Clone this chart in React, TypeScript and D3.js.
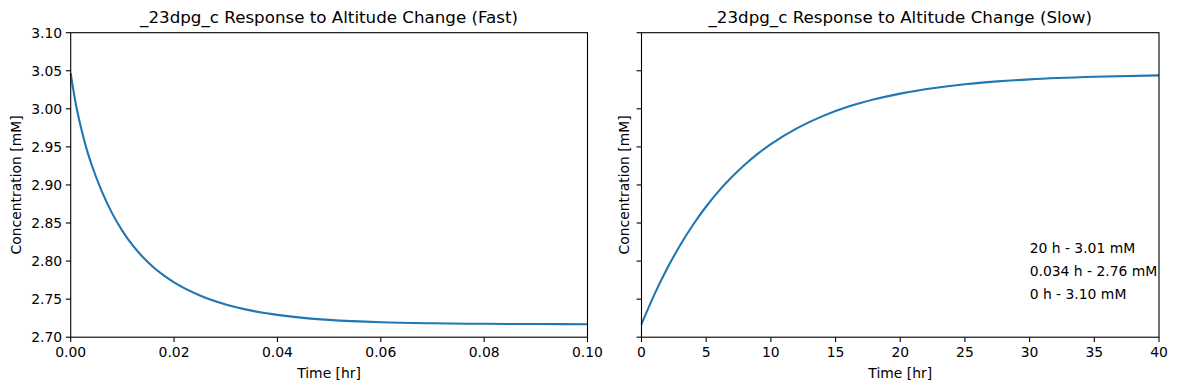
import React from 'react';
import * as d3 from 'd3';

// fast response (hours, mM)
const fastTime = [0, 0.001, 0.002, 0.003, 0.004, 0.006, 0.008, 0.01, 0.012, 0.014, 0.016, 0.018, 0.02, 0.025, 0.03, 0.035, 0.04, 0.045, 0.05, 0.06, 0.07, 0.08, 0.09, 0.1];
const fastConc = [3.0465, 3.006, 2.975, 2.949, 2.9275, 2.8918, 2.863, 2.8397, 2.8205, 2.8049, 2.7919, 2.7811, 2.772, 2.7548, 2.743, 2.7349, 2.7293, 2.7254, 2.7228, 2.7197, 2.7183, 2.7176, 2.7173, 2.7171];

// slow response
const slowTime = [0, 1, 2, 3, 4, 5, 6, 7, 8, 9, 10, 12, 14, 16, 18, 20, 22.5, 25, 27.5, 30, 35, 40];
const slowConc = [2.717, 2.7562, 2.7908, 2.8212, 2.848, 2.8717, 2.8925, 2.9107, 2.9269, 2.9411, 2.9536, 2.9743, 2.9904, 3.0029, 3.0125, 3.02, 3.0271, 3.0323, 3.036, 3.0387, 3.0421, 3.044];

const fastTicks = [0, 0.02, 0.04, 0.06, 0.08, 0.1];
const slowTicks = [0, 5, 10, 15, 20, 25, 30, 35, 40];
const yTicks = [2.7, 2.75, 2.8, 2.85, 2.9, 2.95, 3.0, 3.05, 3.1];

const notes = ['20 h - 3.01 mM', '0.034 h - 2.76 mM', '0 h - 3.10 mM'];
const noteY = [2.81, 2.78, 2.75];

const W = 1177;
const H = 390;
const top = 32.7;
const bottom = 337.2;
const font = 'DejaVu Sans, sans-serif';
const blue = '#1f77b4';

const y = d3.scaleLinear().domain([2.7, 3.1]).range([bottom, top]);

type PanelProps = {
  left: number;
  right: number;
  title: string;
  xDomain: [number, number];
  xTicks: number[];
  xFmt: (v: number) => string;
  times: number[];
  conc: number[];
  showY: boolean;
  children?: (x: d3.ScaleLinear<number, number>) => React.ReactNode;
};

const Panel = ({ left, right, title, xDomain, xTicks, xFmt, times, conc, showY, children }: PanelProps) => {
  const x = d3.scaleLinear().domain(xDomain).range([left, right]);
  const pts = times.map((t, i) => [t, conc[i]] as [number, number]);
  const line = d3.line<[number, number]>()
    .x(d => x(d[0]))
    .y(d => y(d[1]))
    .curve(d3.curveMonotoneX);

  return (
    <g>
      <text x={(left + right) / 2} y={top - 10} textAnchor="middle" fontSize={16.7} fontFamily={font}>{title}</text>
      <path d={line(pts) || ''} fill="none" stroke={blue} strokeWidth={2.1} />
      {children && children(x)}
      <rect x={left} y={top} width={right - left} height={bottom - top} fill="none" stroke="#000" strokeWidth={1.1} />
      {xTicks.map(t => (
        <g key={'x' + t}>
          <line x1={x(t)} x2={x(t)} y1={bottom} y2={bottom + 4.9} stroke="#000" strokeWidth={1.1} />
          <text x={x(t)} y={bottom + 20} textAnchor="middle" fontSize={13.9} fontFamily={font}>{xFmt(t)}</text>
        </g>
      ))}
      {yTicks.map(v => (
        <g key={'y' + v}>
          <line x1={left - 4.9} x2={left} y1={y(v)} y2={y(v)} stroke="#000" strokeWidth={1.1} />
          {showY && (
            <text x={left - 8.5} y={y(v)} dy="0.35em" textAnchor="end" fontSize={13.9} fontFamily={font}>{d3.format('.2f')(v)}</text>
          )}
        </g>
      ))}
      <text x={(left + right) / 2} y={bottom + 41} textAnchor="middle" fontSize={13.9} fontFamily={font}>Time [hr]</text>
      <text
        transform={`translate(${showY ? 21 : left - 12.5},${(top + bottom) / 2}) rotate(-90)`}
        textAnchor="middle"
        fontSize={13.9}
        fontFamily={font}
      >
        Concentration [mM]
      </text>
    </g>
  );
};

export default function App() {
  return (
    <svg width={W} height={H} style={{ position: 'fixed', left: 0, top: 0, background: '#fff' }}>
      <rect width={W} height={H} fill="#fff" />
      <Panel
        left={70.7}
        right={587.5}
        title="_23dpg_c Response to Altitude Change (Fast)"
        xDomain={[0, 0.1]}
        xTicks={fastTicks}
        xFmt={d3.format('.2f')}
        times={fastTime}
        conc={fastConc}
        showY={true}
      />
      <Panel
        left={641.5}
        right={1159}
        title="_23dpg_c Response to Altitude Change (Slow)"
        xDomain={[0, 40]}
        xTicks={slowTicks}
        xFmt={d3.format('d')}
        times={slowTime}
        conc={slowConc}
        showY={false}
      >
        {x => notes.map((n, i) => (
          <text key={n} x={x(30)} y={y(noteY[i])} fontSize={13.9} fontFamily={font}>{n}</text>
        ))}
      </Panel>
    </svg>
  );
}
